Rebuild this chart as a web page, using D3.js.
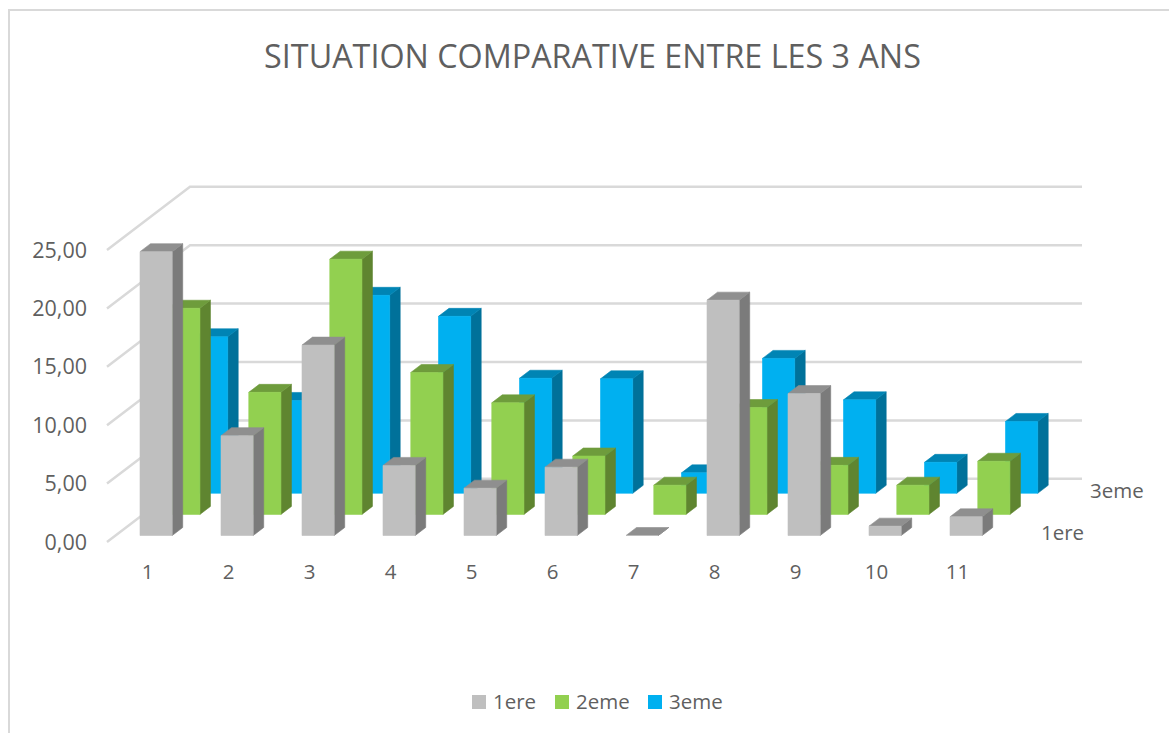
<!DOCTYPE html>
<html><head><meta charset="utf-8">
<script src="https://cdn.jsdelivr.net/npm/d3@7"></script>
<style>html,body{margin:0;padding:0;background:#fff;overflow:hidden}svg{display:block}text{font-family:"Open Sans",sans-serif;fill:#5f5f5f}</style>
</head><body><svg id="c" width="1169" height="733"></svg>
<script>
const title = "SITUATION COMPARATIVE ENTRE LES 3 ANS";
const categories = ["1","2","3","4","5","6","7","8","9","10","11"];
const seriesNames = ["1ere","2eme","3eme"];
const depthLabels = ["1ere","3eme"];
const values1ere = [24.3,8.55,16.3,6.0,4.05,5.85,0,20.15,12.15,0.8,1.6];
const values2eme = [17.65,10.45,21.85,12.15,9.55,5.0,2.5,9.15,4.2,2.5,4.55];
const values3eme = [13.4,7.95,16.95,15.15,9.85,9.8,1.75,11.55,8.0,2.65,6.15];
const yTicks = [0,5,10,15,20,25];
const frontColors = ["#bfbfbf","#92d050","#00b0f0"];
const topColors = ["#8f8f8f","#6e9c3c","#0084b4"];
const sideColors = ["#7b7b7b","#5f8530","#00719a"];

const svg = d3.select("#c");
const fmt = v => v.toFixed(2).replace(".", ",");
const seriesValues = [values1ere, values2eme, values3eme];

const x = d3.scaleBand().domain(categories).range([140, 140+81*11]).paddingInner(0).paddingOuter(0);
const barW = 32.2;
const h = d3.scaleLinear().domain([0,25]).range([0,292]);
const sx = d3.scalePoint().domain(seriesNames).range([0,55.5]);
const sBase = d3.scalePoint().domain(seriesNames).range([535.5,493.3]);
const dx = 10.5, dy = 8;

// chart frame
svg.append("path").attr("d","M9,733V10H1169").attr("fill","none").attr("stroke","#d9d9d9").attr("stroke-width",2);

// gridlines and depth diagonals
const grid = svg.append("g").attr("stroke","#d9d9d9").attr("stroke-width",2.5).attr("fill","none");
yTicks.forEach(t=>{
  const y0 = 542 - h(t), y1 = 478.8 - h(t);
  grid.append("path").attr("d",`M107,${y0}L190,${y1}H1082`);
});

// bars, back to front
[2,1,0].forEach(si=>{
  const name = seriesNames[si];
  const g = svg.append("g").attr("stroke-width",0.6).attr("stroke-linejoin","round");
  categories.forEach((c,i)=>{
    const v = seriesValues[si][i];
    const l = x(c)+sx(name), r = l+barW, b = sBase(name), t = b-h(v);
    g.append("path").attr("fill",sideColors[si]).attr("stroke",sideColors[si]).attr("d",`M${r},${b}V${t}L${r+dx},${t-dy}V${b-dy}Z`);
    g.append("path").attr("fill",topColors[si]).attr("stroke",topColors[si]).attr("d",`M${l},${t}L${l+dx},${t-dy}H${r+dx}L${r},${t}Z`);
    g.append("path").attr("fill",frontColors[si]).attr("stroke",frontColors[si]).attr("d",`M${l},${b}V${t}H${r}V${b}Z`);
  });
});

// title
svg.append("text").attr("x",592.5).attr("y",67.5).attr("text-anchor","middle").attr("font-size",32.3).text(title);

// value axis
svg.append("g").selectAll("text").data(yTicks).join("text")
  .attr("x",87).attr("y",d=>539-h(d)+10.5).attr("text-anchor","end").attr("font-size",21.5).text(fmt);

// category axis
svg.append("g").selectAll("text").data(categories).join("text")
  .attr("x",d=>x(d)+7.5).attr("y",579).attr("text-anchor","middle").attr("font-size",20.5).text(d=>d);

// depth axis
svg.append("text").attr("x",1041).attr("y",540).attr("font-size",20.5).text(depthLabels[0]);
svg.append("text").attr("x",1090).attr("y",498).attr("font-size",20.5).text(depthLabels[1]);

// legend
const legendX = d3.scaleOrdinal().domain(seriesNames).range([472,555,648]);
const leg = svg.append("g");
seriesNames.forEach((n,i)=>{
  leg.append("rect").attr("x",legendX(n)).attr("y",695).attr("width",14).attr("height",14).attr("fill",frontColors[i]);
  leg.append("text").attr("x",legendX(n)+21).attr("y",709).attr("font-size",20.5).text(n);
});
</script></body></html>
